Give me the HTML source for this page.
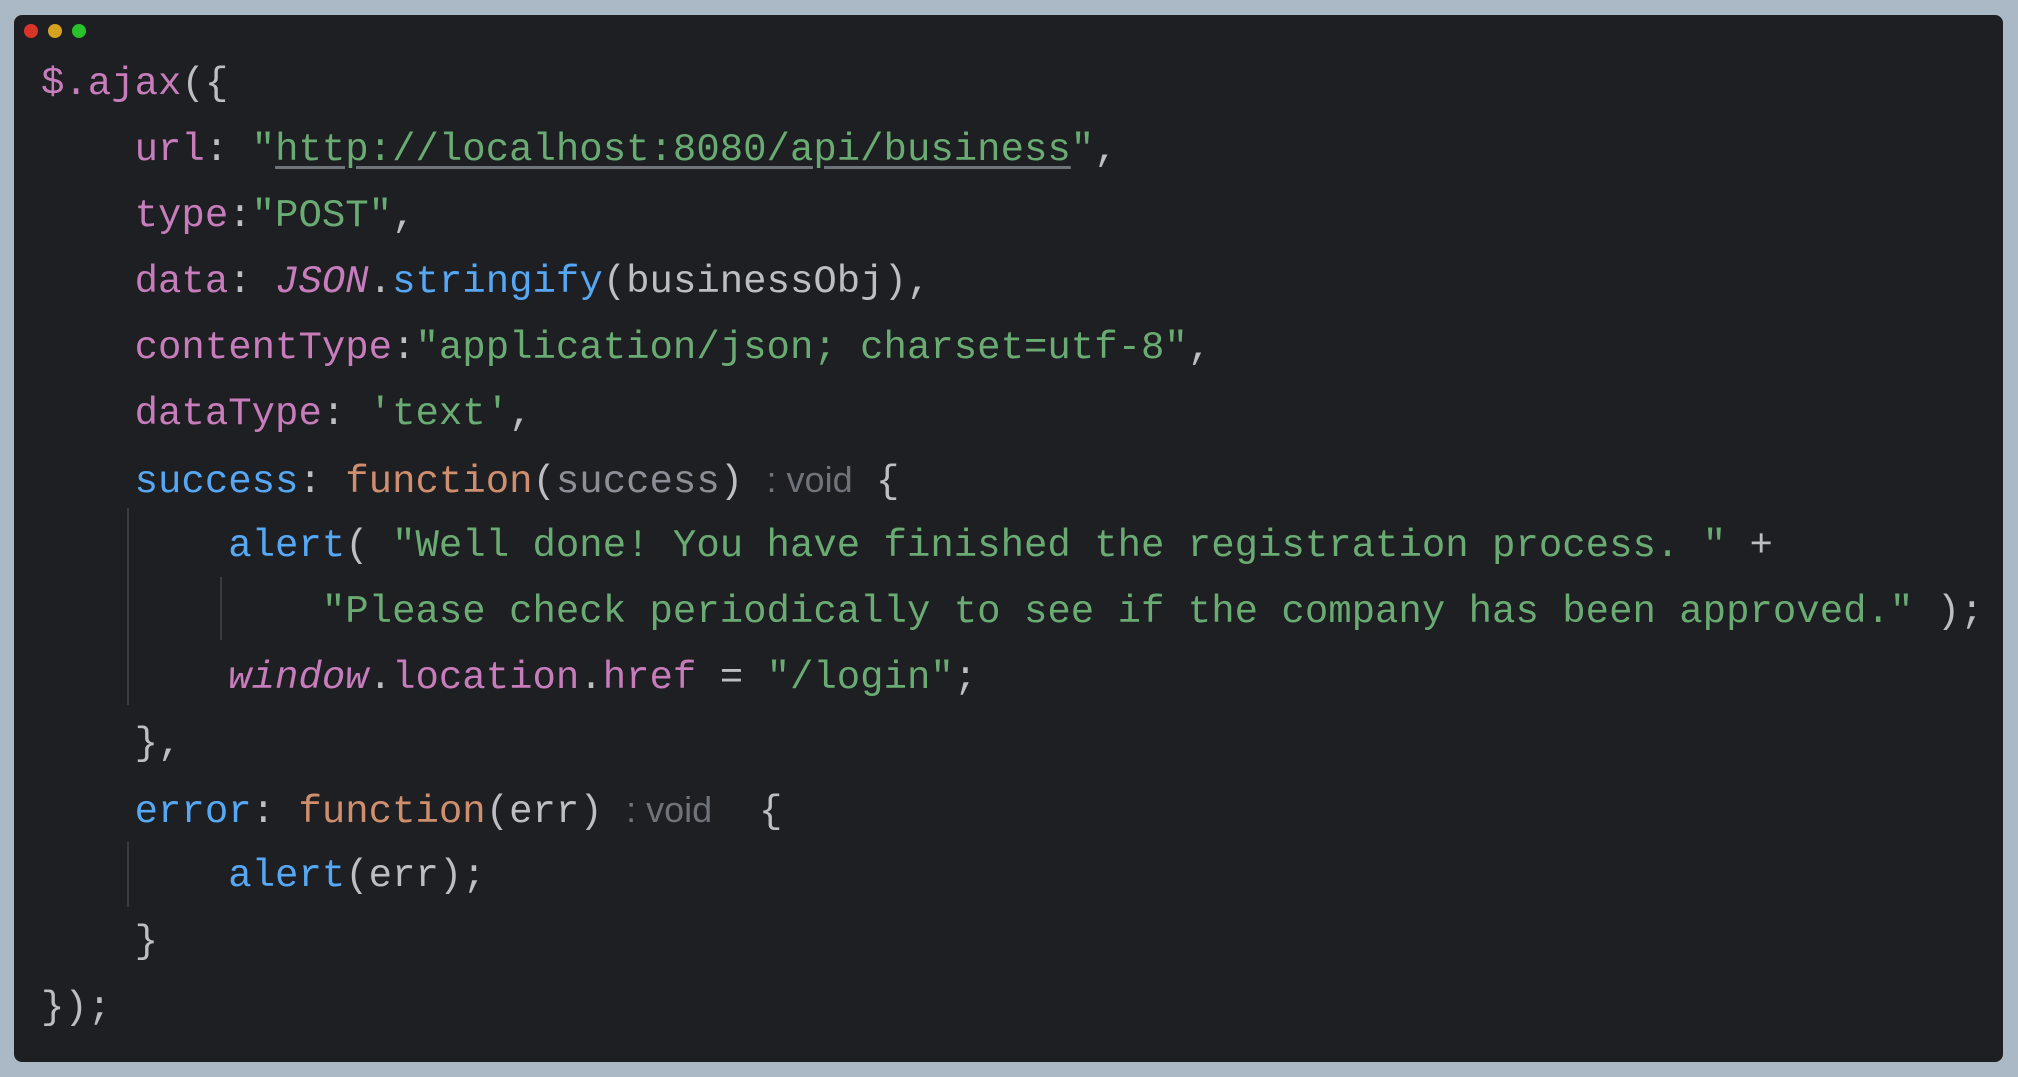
<!DOCTYPE html>
<html><head><meta charset="utf-8"><style>
html,body{margin:0;padding:0}
body{width:2018px;height:1077px;background:#abb8c5;position:relative;overflow:hidden}
.win{position:absolute;left:14px;top:15px;width:1989px;height:1047px;background:#1e1f22;border-radius:8px}
.dot{position:absolute;top:24px;width:14px;height:14px;border-radius:50%}
.l{position:absolute;left:41px;height:66px;line-height:66px;font-family:"Liberation Mono",monospace;font-size:39px;color:#bcbec4;white-space:pre}
.p{color:#c77dbb}.g{color:#6aab73}.b{color:#56a8f5}.o{color:#cf8e6d}
.i{font-style:italic}
.u{text-decoration:underline;text-decoration-color:#6f737a;text-underline-offset:6px}
.h{font-family:"Liberation Sans",sans-serif;color:#6f737a;font-size:36px}
.v{position:absolute;width:2px;background:#393b40}
</style></head><body>
<div class="win"></div>
<div class="dot" style="left:24px;background:#d8352a"></div>
<div class="dot" style="left:48px;background:#d5a120"></div>
<div class="dot" style="left:72px;background:#29c22a"></div>
<div class="v" style="left:127px;top:508px;height:197px"></div>
<div class="v" style="left:220px;top:577px;height:63px"></div>
<div class="v" style="left:127px;top:842px;height:65px"></div>
<div class="l" style="top:51px"><span class="p">$.ajax</span>({</div>
<div class="l" style="top:117px">    <span class="p">url</span>: <span class="g">"<span class="u">http://localhost:8080/api/business</span>"</span>,</div>
<div class="l" style="top:183px">    <span class="p">type</span>:<span class="g">"POST"</span>,</div>
<div class="l" style="top:249px">    <span class="p">data</span>: <span class="p i">JSON</span>.<span class="b">stringify</span>(businessObj),</div>
<div class="l" style="top:315px">    <span class="p">contentType</span>:<span class="g">"application/json; charset=utf-8"</span>,</div>
<div class="l" style="top:381px">    <span class="p">dataType</span>: <span class="g">'text'</span>,</div>
<div class="l" style="top:447px">    <span class="b">success</span>: <span class="o">function</span>(<span style="color:#8c8f96">success</span>) <span class="h">: void</span> {</div>
<div class="l" style="top:513px">        <span class="b">alert</span>( <span class="g">"Well done! You have finished the registration process. "</span> +</div>
<div class="l" style="top:579px">            <span class="g">"Please check periodically to see if the company has been approved."</span> );</div>
<div class="l" style="top:645px">        <span class="p i">window</span>.<span class="p">location</span>.<span class="p">href</span> = <span class="g">"/login"</span>;</div>
<div class="l" style="top:711px">    },</div>
<div class="l" style="top:777px">    <span class="b">error</span>: <span class="o">function</span>(err) <span class="h">: void</span>  {</div>
<div class="l" style="top:843px">        <span class="b">alert</span>(err);</div>
<div class="l" style="top:909px">    }</div>
<div class="l" style="top:975px">});</div>
</body></html>
